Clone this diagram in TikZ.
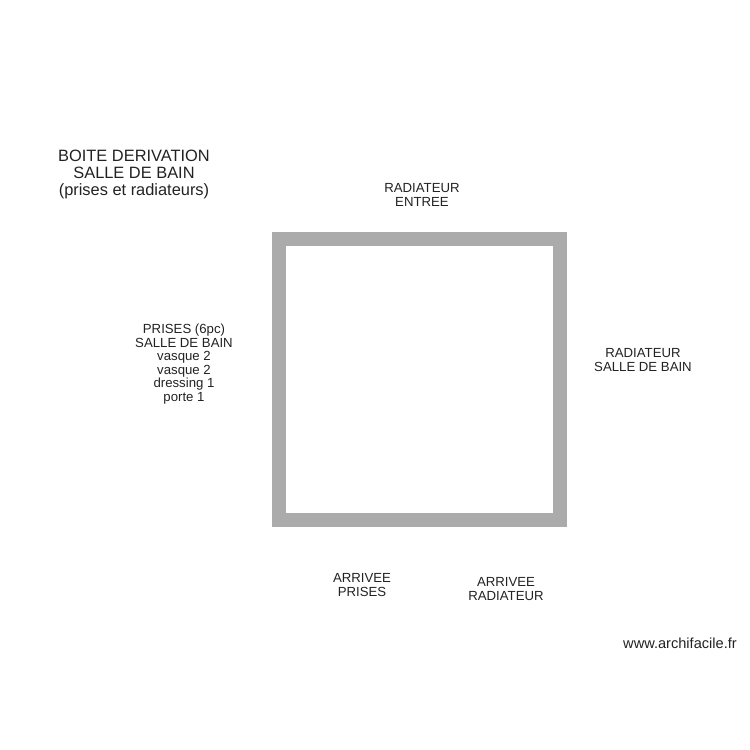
\documentclass[tikz,border=0pt]{standalone}
\usepackage{fontspec}
\setmainfont{Liberation Sans}
\definecolor{wallgray}{HTML}{ABABAB}
\definecolor{inkgray}{HTML}{222222}
\tikzset{
  wall/.style={draw=wallgray, line width=14pt, line join=miter},
  note/.style={align=center, text=inkgray, inner sep=0pt,
    font=\fontsize{13.2}{13.6}\selectfont},
  title/.style={note, font=\fontsize{16.4}{17}\selectfont},
}

\begin{document}
\begin{tikzpicture}[x=1pt,y=-1pt]
\useasboundingbox (0,0) rectangle (750,750);
\coordinate (NW) at (279, 238.5);
\coordinate (NE) at (560, 238.5);
\coordinate (SE) at (560, 519.5);
\coordinate (SW) at (279, 519.5);
\draw[wall] (NW) -- (NE) -- (SE) -- (SW) -- cycle;
\node[title] (boite) at (134, 174) {BOITE DERIVATION\\SALLE DE BAIN\\(prises et radiateurs)};
\node[note] (radentree) at (422, 195) {RADIATEUR\\ENTREE};
\node[note] (prises) at (184, 364) {PRISES (6pc)\\SALLE DE BAIN\\vasque 2\\vasque 2\\dressing 1\\porte 1};
\node[note] (radsdb) at (643, 360) {RADIATEUR\\SALLE DE BAIN};
\node[note] (arrprises) at (362, 585) {ARRIVEE\\PRISES};
\node[note] (arrrad) at (506, 589) {ARRIVEE\\RADIATEUR};
\node[note, font=\fontsize{14.6}{15}\selectfont] (site) at (680, 643) {www.archifacile.fr};
\end{tikzpicture}
\end{document}
